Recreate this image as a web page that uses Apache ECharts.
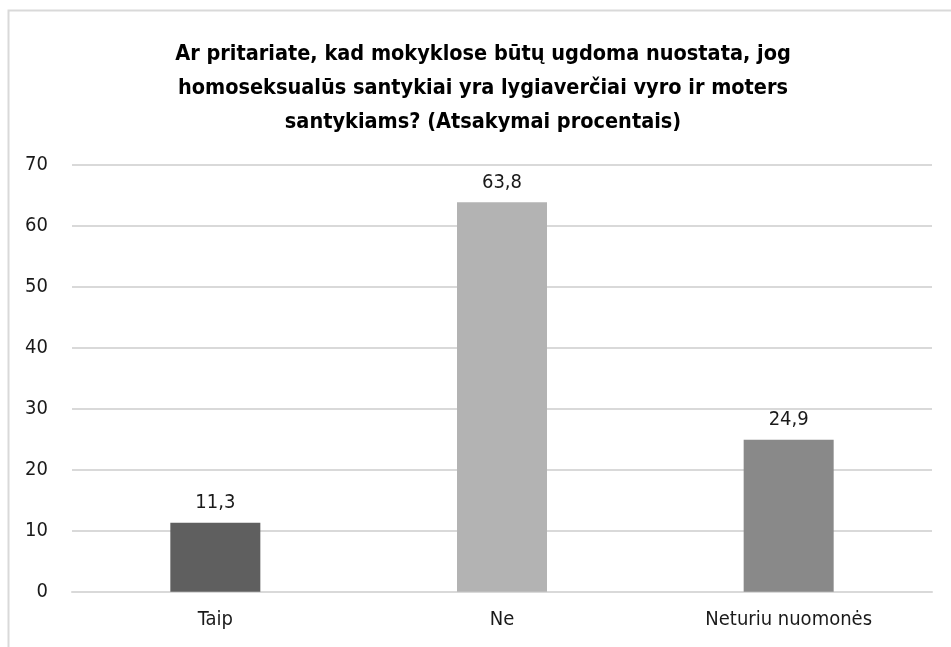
<!DOCTYPE html>
<html>
<head>
<meta charset="utf-8">
<script src="https://cdn.jsdelivr.net/npm/echarts@6/dist/echarts.min.js"></script>
<style>
html,body{margin:0;padding:0;background:#fff;}
#c{width:951px;height:647px;}
</style>
</head>
<body>
<div id="c"></div>
<script>
var titleText = 'Ar pritariate, kad mokyklose būtų ugdoma nuostata, jog\nhomoseksualūs santykiai yra lygiaverčiai vyro ir moters\nsantykiams? (Atsakymai procentais)';
var categories = ['Taip', 'Ne', 'Neturiu nuomonės'];
var values = [11.3, 63.8, 24.9];
var barColors = ['#5f5f5f', '#b3b3b3', '#898989'];
var yTicks = [0, 10, 20, 30, 40, 50, 60, 70];

var FONT = "'Liberation Sans Narrow', 'DejaVu Sans Condensed', 'Roboto Condensed', sans-serif";
var chart = echarts.init(document.getElementById('c'), null, {renderer: 'canvas'});
chart.setOption({
  backgroundColor: '#fff',
  animation: false,
  graphic: [{
    type: 'rect',
    shape: {x: 8.5, y: 10.5, width: 1200, height: 1000},
    style: {fill: 'none', stroke: '#d9d9d9', lineWidth: 2},
    silent: true
  }],
  title: {
    text: titleText,
    left: 478,
    top: 32,
    textAlign: 'center',
    textStyle: {
      fontFamily: FONT,
      fontWeight: 'bold',
      fontSize: 21.5,
      lineHeight: 34,
      color: '#000'
    }
  },
  grid: {left: 72, right: 19, top: 164.5, bottom: 55.3, containLabel: false},
  xAxis: {
    type: 'category',
    data: categories,
    axisTick: {show: false},
    axisLine: {lineStyle: {color: '#d9d9d9', width: 2}},
    axisLabel: {
      fontFamily: FONT, fontSize: 20, color: '#1a1a1a', margin: 18
    }
  },
  yAxis: {
    type: 'value',
    min: 0, max: 70, interval: 10,
    axisLine: {show: false},
    axisTick: {show: false},
    splitLine: {lineStyle: {color: '#d9d9d9', width: 2}},
    axisLabel: {
      fontFamily: FONT, fontSize: 20, color: '#1a1a1a', margin: 24
    }
  },
  series: [{
    type: 'bar',
    barWidth: 90,
    data: values.map(function (v, i) {
      return {value: v, itemStyle: {color: barColors[i]}};
    }),
    label: {
      show: true,
      position: 'top',
      distance: 10,
      fontFamily: FONT, fontSize: 20, color: '#1a1a1a',
      formatter: function (p) { return String(p.value).replace('.', ','); }
    }
  }]
});
</script>
</body>
</html>
